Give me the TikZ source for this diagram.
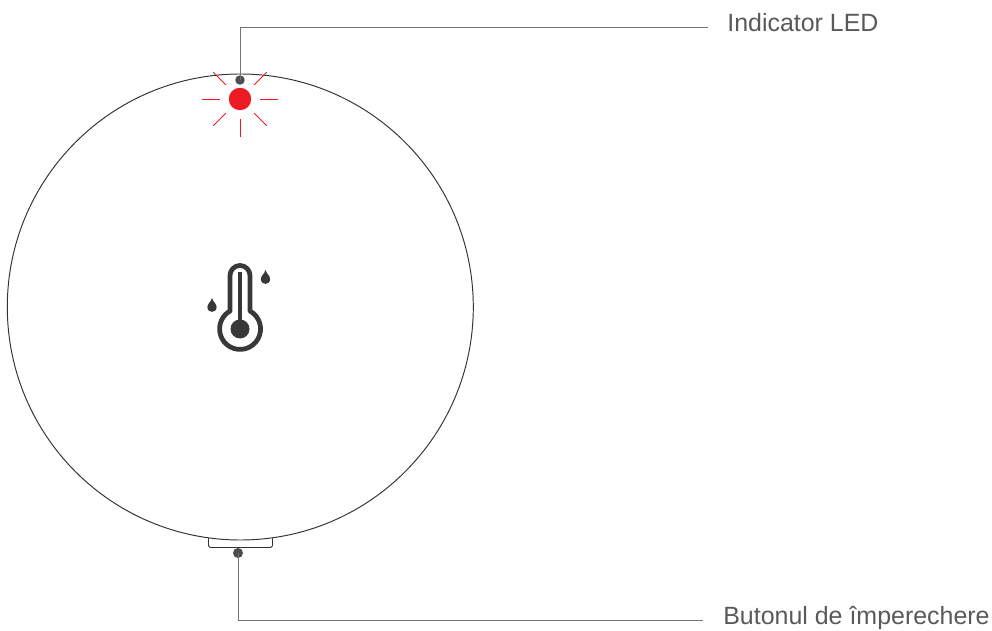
\documentclass[tikz,border=0pt]{standalone}
\usepackage{fontspec}
\setmainfont{Liberation Sans}
\usetikzlibrary{positioning,arrows.meta,calc}
\definecolor{lbltext}{HTML}{58595B}
\definecolor{darkdot}{HTML}{4D4D4F}
\definecolor{ledred}{HTML}{ED1C24}
\tikzset{
  body/.style={line width=0.55pt,draw=black!80},
  leader/.style={line width=0.55pt,draw=black!55},
  dotmark/.style={circle,fill=darkdot,inner sep=0pt,minimum size=#1},
  ledlamp/.style={circle,fill=ledred,inner sep=0pt,minimum size=0.45cm},
  ledray/.style={line width=0.55pt,draw=ledred},
  lblnode/.style={font=\fontsize{14.2}{16}\selectfont,text=lbltext,inner sep=0pt,anchor=base west},
  thermo/.style={line width=2.7pt,draw=black!78,line join=round},
  dropshape/.style={fill=black!78},
}
\begin{document}
\begin{tikzpicture}[x=0.02cm,y=0.02cm]
  \useasboundingbox (0,0) rectangle (992,630);
  % housing
  \draw[body] (240.3,323) circle[radius=233];
  % pairing button under the rim
  \draw[body,rounded corners=1pt] (208.5,92) -- (208.5,82.5) -- (272.5,82.5) -- (272.5,92);
  % led and its rays
  \node[ledlamp] (led) at (240,531) {};
  \foreach \a in {0,45,135,180,225,270,315}{
    \draw[ledray] ([shift={(\a:20)}]led.center) -- ([shift={(\a:38)}]led.center);}
  % leader lines
  \node[dotmark=0.19cm] (leddot) at (240,550) {};
  \coordinate (ledend) at (708,603);
  \draw[leader] (leddot.center) |- (ledend);
  \node[lblnode] (ledlabel) at (727,598.5) {Indicator LED};
  \node[dotmark=0.2cm] (btndot) at (238,77) {};
  \coordinate (btnend) at (703,10);
  \draw[leader] (btndot.center) |- (btnend);
  \node[lblnode] (btnlabel) at (723,5.5) {Butonul de împerechere};
  % thermometer icon
  \draw[thermo] (230,354.5) arc[start angle=180,end angle=0,radius=10]
    -- (250,319) arc[start angle=61,end angle=-241,radius=20.5] -- cycle;
  \draw[line width=2.8pt,draw=black!78] (240,358) -- (240,301);
  \fill[black!78] (240,301) circle[radius=9.5];
  % the two drops
  \foreach \x/\y in {265.5/360,212/332}{
    \fill[dropshape] (\x,\y) .. controls (\x+1,\y-4) and (\x+4.6,\y-5.5) .. (\x+4.6,\y-9)
      .. controls (\x+4.6,\y-15.5) and (\x-4.6,\y-15.5) .. (\x-4.6,\y-9)
      .. controls (\x-4.6,\y-5.5) and (\x-1,\y-4) .. (\x,\y);}
\end{tikzpicture}
\end{document}
